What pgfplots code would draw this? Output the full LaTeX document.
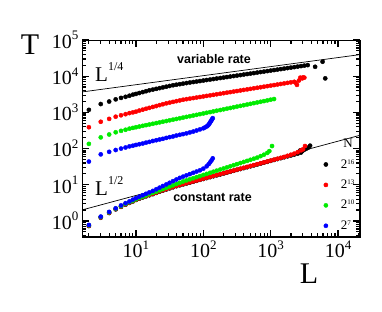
\documentclass[border=0pt]{standalone}
\usepackage{fontspec}
\setmainfont{Liberation Serif}
\newfontfamily\arialfont{Liberation Sans}
\usepackage{pgfplots}
\pgfplotsset{compat=1.18}
\definecolor{cred}{RGB}{255,0,0}
\definecolor{cgreen}{RGB}{0,235,0}
\definecolor{cblue}{RGB}{0,0,255}
\newcommand{\tlab}[1]{10\raisebox{0.42em}{\fontsize{13}{13}\selectfont #1}}
\newcommand{\lgx}[1]{2\raisebox{4pt}{\fontsize{7}{7}\selectfont #1}}
\begin{document}
\begin{tikzpicture}
\path[use as bounding box] (0,0) rectangle (382pt,311pt);
\begin{axis}[
  at={(82pt,74pt)}, anchor=south west,
  scale only axis, width=278pt, height=197pt,
  xmode=log, ymode=log,
  xmin=1.58, xmax=21200, ymin=0.36, ymax=1e5,
  xtick={10,100,1000,10000}, xticklabels={\tlab{1},\tlab{2},\tlab{3},\tlab{4}},
  ytick={1,10,100,1000,10000,100000}, yticklabels={\tlab{0},\tlab{1},\tlab{2},\tlab{3},\tlab{4},\tlab{5}},
  minor xtick={2,3,4,5,6,7,8,9,20,30,40,50,60,70,80,90,200,300,400,500,600,700,800,900,2000,3000,4000,5000,6000,7000,8000,9000,20000},
  minor ytick={0.4,0.5,0.6,0.7,0.8,0.9,2,3,4,5,6,7,8,9,20,30,40,50,60,70,80,90,200,300,400,500,600,700,800,900,2000,3000,4000,5000,6000,7000,8000,9000,20000,30000,40000,50000,60000,70000,80000,90000},
  tick align=inside,
  major tick length=7pt, minor tick length=4pt,
  every tick/.style={black, line width=1.2pt},
  tick label style={font=\fontsize{20}{20}\selectfont},
  legend style={at={(0.869,0.405)}, anchor=north west, draw=none, fill=none,
    font=\fontsize{13}{13}\selectfont, row sep=6.3pt, column sep=11pt, inner sep=0pt},
  legend cell align=left,
  every axis plot/.append style={only marks, mark=*, mark size=2.1pt},
]
% variable rate
\addplot[forget plot, black, mark options={fill=black}] coordinates {(2,1175)(3,1698)(4,1995)(5,2291)(6,2512)(7,2692)(8,2884)(9,3090)(10,3236)(11.2,3428)(12.6,3631)(14.1,3846)(15.8,4074)(17.8,4266)(20,4467)(22.4,4677)(25.1,4898)(28.2,5129)(31.6,5370)(35.5,5623)(39.8,5821)(44.7,6026)(50.1,6237)(56.2,6457)(63.1,6683)(70.8,6902)(79.4,7112)(89.1,7345)(100,7586)(112,7834)(126,8072)(141,8337)(158,8610)(178,8892)(200,9162)(224,9462)(251,9772)(282,10090)(316,10400)(355,10740)(398,11090)(447,11460)(501,11800)(562,12190)(631,12590)(708,13000)(794,13400)(891,13840)(1000,14290)(1122,14760)(1259,15210)(1413,15700)(1585,16220)(1778,16750)(1995,17260)(2239,17820)(2512,18410)(2818,19010)(3162,19590)(3548,20230)(4570,18200)(5900,25100)(6460,8710)};
\addplot[forget plot, cred, mark options={fill=cred}] coordinates {(2,389)(3,550)(4,661)(5,759)(6,832)(7,891)(8,955)(9,1000)(10,1047)(11.2,1122)(12.6,1189)(14.1,1259)(15.8,1334)(17.8,1413)(20,1496)(22.4,1585)(25.1,1679)(28.2,1778)(31.6,1862)(35.5,1950)(39.8,2042)(44.7,2138)(50.1,2239)(56.2,2317)(63.1,2399)(70.8,2483)(79.4,2570)(89.1,2661)(100,2754)(112,2851)(126,2951)(141,3055)(158,3162)(178,3273)(200,3388)(224,3508)(251,3631)(282,3758)(316,3890)(355,4027)(398,4169)(447,4315)(501,4467)(562,4624)(631,4786)(708,4955)(794,5129)(891,5309)(1000,5495)(1122,5689)(1259,5888)(1413,6095)(1585,6310)(1778,6531)(1995,6761)(2239,6998)(2344,6607)(2455,5754)(2630,7586)(2754,9120)(2951,8710)(3020,9226)(3162,9120)};
\addplot[forget plot, cgreen, mark options={fill=cgreen}] coordinates {(2,135)(3,204)(4,245)(5,282)(6,309)(7,331)(8,355)(9,372)(10,389)(11.2,406)(12.6,425)(14.1,444)(15.8,463)(17.8,484)(20,506)(22.4,528)(25.1,552)(28.2,577)(31.6,603)(35.5,630)(39.8,658)(44.7,687)(50.1,718)(56.2,750)(63.1,783)(70.8,818)(79.4,855)(89.1,893)(100,933)(112,975)(126,1019)(141,1064)(158,1112)(178,1161)(200,1213)(224,1268)(251,1324)(282,1384)(316,1445)(355,1510)(398,1578)(447,1648)(501,1722)(562,1799)(631,1879)(708,1963)(794,2051)(891,2143)(1000,2239)(1122,2339)};
\addplot[forget plot, cblue, mark options={fill=cblue}] coordinates {(2,43.7)(3,69.2)(4,81.3)(5,91.2)(6,100)(7,107)(8,115)(9,120)(10,126)(11.2,132)(12.6,138)(14.1,146)(15.8,153)(17.8,162)(20,170)(22.4,178)(25.1,186)(28.2,197)(31.6,207)(35.5,216)(39.8,229)(44.7,240)(50.1,251)(56.2,263)(63.1,279)(70.8,295)(79.4,316)(89.1,339)(100,363)(106,385)(112,407)(116,430)(120,457)(123,490)(126,525)(129,562)(132,603)(135,646)(138,692)};
% constant rate
\addplot[black, mark options={fill=black}] coordinates {(2,0.724)(3,1.230)(4,1.660)(5,2.089)(6,2.455)(7,2.818)(8,3.162)(9,3.467)(10,3.802)(11.2,4.121)(12.6,4.467)(14.1,4.786)(15.8,5.129)(17.8,5.495)(20,5.957)(22.4,6.457)(25.1,6.918)(28.2,7.413)(31.6,7.943)(35.5,8.511)(39.8,9.120)(44.7,9.661)(50.1,10.23)(56.2,10.84)(63.1,11.48)(70.8,12.16)(79.4,12.88)(89.1,13.65)(100,14.45)(112,15.31)(126,16.22)(141,17.18)(158,18.20)(178,19.28)(200,20.42)(224,21.63)(251,22.91)(282,24.27)(316,25.70)(355,27.23)(398,28.84)(447,30.55)(501,32.36)(562,34.28)(631,36.31)(708,38.46)(794,40.74)(891,43.15)(1000,45.71)(1122,48.42)(1259,51.29)(1413,54.33)(1585,57.54)(1778,60.95)(1995,64.57)(2239,68.39)(2512,72.44)(2818,77.62)(2754,89.13)(2951,85.11)(3162,93.33)(3388,100)(3631,107.2)(3846,120.2)};
\addlegendentry{\lgx{16}}
\addplot[cred, mark options={fill=cred}] coordinates {(2,0.741)(3,1.259)(4,1.698)(5,2.138)(6,2.512)(7,2.884)(8,3.236)(9,3.548)(10,3.890)(11.2,4.217)(12.6,4.571)(14.1,4.898)(15.8,5.248)(17.8,5.623)(20,6.095)(22.4,6.607)(25.1,7.079)(28.2,7.586)(31.6,8.128)(35.5,8.710)(39.8,9.333)(44.7,9.863)(50.1,10.45)(56.2,11.07)(63.1,11.72)(70.8,12.42)(79.4,13.15)(89.1,13.93)(100,14.76)(112,15.63)(126,16.56)(141,17.54)(158,18.58)(178,19.68)(200,20.84)(224,22.08)(251,23.39)(282,24.77)(316,26.24)(355,27.80)(398,29.44)(447,31.19)(501,33.04)(562,34.99)(631,37.07)(708,39.26)(794,41.59)(891,44.06)(1000,46.67)(1122,49.43)(1259,52.36)(1413,55.46)(1585,58.75)(1778,63.10)(1995,67.61)(2239,72.44)(2512,79.43)(2818,89.13)(3020,95.50)(3236,117.5)};
\addlegendentry{\lgx{13}}
\addplot[cgreen, mark options={fill=cgreen}] coordinates {(2,0.759)(3,1.288)(4,1.738)(5,2.188)(6,2.570)(7,2.951)(8,3.311)(9,3.631)(10,3.981)(11.2,4.315)(12.6,4.677)(14.1,5.070)(15.8,5.495)(17.8,5.957)(20,6.457)(22.4,6.998)(25.1,7.586)(28.2,8.222)(31.6,8.913)(35.5,9.661)(39.8,10.47)(44.7,11.35)(50.1,12.30)(56.2,13.18)(63.1,14.13)(70.8,15.14)(79.4,16.22)(89.1,17.38)(100,18.62)(112,19.95)(126,21.38)(141,22.91)(158,24.55)(178,26.30)(200,28.18)(224,30.20)(251,32.36)(282,34.67)(316,37.15)(355,39.81)(398,42.66)(447,45.71)(501,48.98)(562,52.48)(631,56.23)(708,61.66)(794,67.61)(891,75.86)(955,85.11)(1047,117.5)};
\addlegendentry{\lgx{10}}
\addplot[cblue, mark options={fill=cblue}] coordinates {(2,0.776)(3,1.318)(4,1.778)(5,2.239)(6,2.692)(7,3.090)(8,3.467)(9,3.890)(10,4.266)(11.2,4.677)(12.6,5.129)(14.1,5.623)(15.8,6.166)(17.8,6.761)(20,7.499)(22.4,8.318)(25.1,9.226)(28.2,10.23)(31.6,11.35)(35.5,12.59)(39.8,13.96)(44.7,15.49)(50.1,16.79)(56.2,18.20)(63.1,19.72)(70.8,21.38)(79.4,23.17)(89.1,25.12)(100,27.86)(112,32.36)(120,37.15)(126,41.69)(132,46.77)(138,53.70)};
\addlegendentry{\lgx{7}}
% reference power laws
\addplot[forget plot, black, line width=0.7pt, sharp plot, mark=none] coordinates {(1.58,3666)(21200,39470)};
\addplot[forget plot, black, line width=0.7pt, sharp plot, mark=none] coordinates {(1.58,2.011)(21200,233)};
\draw[line width=1.8pt] (rel axis cs:0,0) rectangle (rel axis cs:1,1);
\end{axis}
\node[anchor=base, inner sep=0pt, font=\fontsize{30}{30}\selectfont] at (30pt,256pt) {T};
\node[anchor=base, inner sep=0pt, font=\fontsize{30}{30}\selectfont] at (309pt,28pt) {L};
\node[anchor=base west, inner sep=0pt, font=\fontsize{21}{21}\selectfont] at (95pt,229pt) {L\raisebox{11pt}{\fontsize{12}{12}\selectfont 1/4}};
\node[anchor=base west, inner sep=0pt, font=\fontsize{21}{21}\selectfont] at (95pt,116pt) {L\raisebox{11pt}{\fontsize{12}{12}\selectfont 1/2}};
\node[anchor=base, inner sep=0pt, font=\arialfont\bfseries\fontsize{12.5}{12.5}\selectfont] at (214pt,247pt) {variable rate};
\node[anchor=base, inner sep=0pt, font=\arialfont\bfseries\fontsize{12.5}{12.5}\selectfont] at (212.5pt,109.5pt) {constant rate};
\node[anchor=base, inner sep=0pt, font=\fontsize{13}{13}\selectfont] at (348pt,164pt) {N};
\end{tikzpicture}
\end{document}
